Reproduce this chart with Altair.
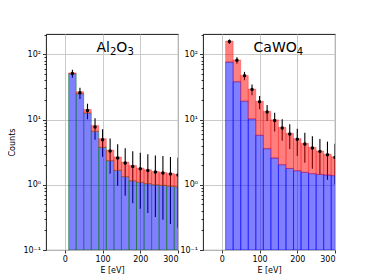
import altair as alt
import pandas as pd

# bins (eV)
bin_lo = [10, 30, 50, 70, 90, 110, 130, 150, 170, 190, 210, 230, 250, 270, 290]
bin_hi = [30, 50, 70, 90, 110, 130, 150, 170, 190, 210, 230, 250, 270, 290, 310]
centers = [20, 40, 60, 80, 100, 120, 140, 160, 180, 200, 220, 240, 260, 280, 300]

# Al2O3
al_blue = [50.5, 24.8, 12.6, 6.6, 3.75, 2.34, 1.66, 1.33, 1.15, 1.09, 1.04, 1.0, 0.98, 0.95, 0.93]
al_total = [52, 26.7, 14.3, 8.1, 5.1, 3.4, 2.67, 2.23, 1.98, 1.8, 1.7, 1.6, 1.55, 1.49, 1.44]
al_point = [51, 25.7, 13.8, 7.7, 4.9, 3.3, 2.57, 2.15, 1.9, 1.76, 1.66, 1.57, 1.52, 1.46, 1.41]
al_err = [7.1, 5.1, 3.7, 2.8, 2.2, 1.82, 1.6, 1.47, 1.38, 1.33, 1.29, 1.25, 1.23, 1.21, 1.19]

# CaWO4
ca_blue = [76, 38, 19.1, 10.2, 5.74, 3.58, 2.57, 2.03, 1.78, 1.64, 1.55, 1.48, 1.44, 1.41, 1.38]
ca_total = [160, 82, 47.5, 29.3, 19.1, 13.4, 9.9, 7.6, 6.16, 5.1, 4.32, 3.75, 3.3, 2.96, 2.7]
ca_point = [157, 81, 47, 29, 18.7, 13.1, 9.65, 7.45, 6.0, 4.98, 4.22, 3.66, 3.25, 2.89, 2.63]
ca_err = [12.5, 9.0, 6.9, 5.4, 4.3, 3.6, 3.1, 2.7, 2.45, 2.23, 2.05, 1.9, 1.8, 1.7, 1.62]

# panel labels: (text, is_subscript)
al_label = [("Al", False), ("2", True), ("O", False), ("3", True)]
ca_label = [("CaWO", False), ("4", True)]

y_ticks = [0.1, 0.2, 0.3, 0.4, 0.5, 0.6, 0.7, 0.8, 0.9,
           1, 2, 3, 4, 5, 6, 7, 8, 9,
           10, 20, 30, 40, 50, 60, 70, 80, 90,
           100, 200]
x_ticks = [0, 100, 200, 300]
y_min, y_max = 0.1, 205
FONT = "DejaVu Sans"
W, H = 132, 216
BIG, SMALL = 14, 10
# DejaVu Sans advance widths (em)
ADV = {"A": 0.684, "l": 0.278, "O": 0.787, "C": 0.698, "a": 0.613, "W": 0.989,
       "2": 0.636, "3": 0.636, "4": 0.636}

major = "indexof([0.1,1,10,100], datum.value) >= 0"
label_expr = ("datum.value == 100 ? '10²' : datum.value == 10 ? '10¹' : "
              "datum.value == 1 ? '10⁰' : datum.value == 0.1 ? '10⁻¹' : ''")


def label_layers(parts):
    layers = []
    off = 0.0
    for s, sub in parts:
        fs = SMALL if sub else BIG
        layers.append(
            alt.Chart(pd.DataFrame({"t": [s]})).mark_text(
                align="left", baseline="alphabetic", fontSize=fs, font=FONT,
                color="black", dx=off, dy=3 if sub else 0,
            ).encode(x=alt.datum(84), y=alt.datum(108), text="t:N")
        )
        off += sum(ADV.get(ch, 0.6) for ch in s) * fs
    return layers


def panel(blue, total, pts, err, parts, edge, ytitle):
    df = pd.DataFrame({
        "lo": bin_lo, "hi": bin_hi, "c": centers,
        "blue": blue, "total": total, "pt": pts,
        "elo": [p - e for p, e in zip(pts, err)],
        "ehi": [p + e for p, e in zip(pts, err)],
    })
    xs = alt.Scale(domain=[-50, 300], nice=False, zero=False)
    ys = alt.Scale(type="log", domain=[y_min, y_max], nice=False)
    xax = alt.Axis(values=x_ticks, title="E [eV]", grid=True, tickSize=3,
                   labelPadding=2, titlePadding=3)
    yax = alt.Axis(values=y_ticks, title=ytitle, labelExpr=label_expr,
                   grid=True,
                   gridOpacity={"condition": {"test": major, "value": 1}, "value": 0},
                   tickSize={"condition": {"test": major, "value": 3.5}, "value": 2},
                   labelPadding=2, titlePadding=6)
    base = alt.Chart(df)
    errs = base.mark_rule(color="black", strokeWidth=1.1, clip=True).encode(
        x=alt.X("c:Q", scale=xs, axis=xax),
        y=alt.Y("elo:Q", scale=ys, axis=yax),
        y2="ehi:Q",
    )
    bars_b = base.mark_rect(fill="blue", fillOpacity=0.5, stroke=edge,
                            strokeOpacity=0.5, strokeWidth=1, clip=True).encode(
        x="lo:Q", x2="hi:Q", y="blue:Q", y2=alt.datum(y_min),
    )
    bars_r = base.mark_rect(fill="red", fillOpacity=0.5, stroke="red",
                            strokeOpacity=0.3, strokeWidth=1, clip=True).encode(
        x="lo:Q", x2="hi:Q", y="total:Q", y2="blue:Q",
    )
    dots = base.mark_circle(color="black", size=12, opacity=1, clip=True).encode(
        x="c:Q", y="pt:Q",
    )
    return alt.layer(errs, bars_b, bars_r, dots, *label_layers(parts)).properties(
        width=W, height=H)


left = panel(al_blue, al_total, al_point, al_err, al_label, "green", "Counts")
right = panel(ca_blue, ca_total, ca_point, ca_err, ca_label, "blue", "")

chart = alt.hconcat(left, right, spacing=0).properties(
    padding={"left": 0, "top": 25, "right": 5, "bottom": 5}
).configure_view(stroke="black", strokeWidth=0.9).configure_axis(
    labelFont=FONT, titleFont=FONT, labelFontSize=8, titleFontSize=8,
    labelColor="black", titleColor="black", titleFontWeight="normal",
    gridColor="#c4c4c4", gridWidth=0.9, domain=False, tickColor="black",
    tickWidth=0.8,
)

chart.save("out.html", embed_options={"renderer": "svg", "actions": False})
